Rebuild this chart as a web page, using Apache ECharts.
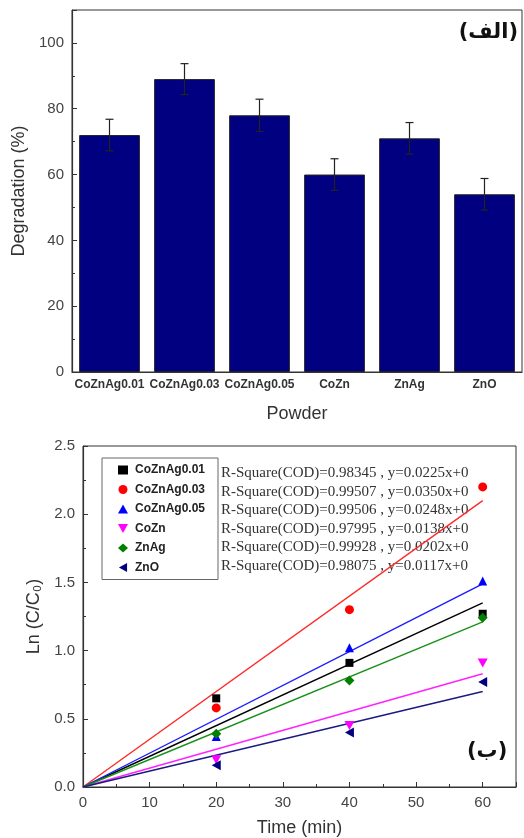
<!DOCTYPE html>
<html>
<head>
<meta charset="utf-8">
<script src="https://cdn.jsdelivr.net/npm/echarts@6/dist/echarts.min.js"></script>
<style>
html,body{margin:0;padding:0;background:#fff;}
#c{width:524px;height:838px;}
</style>
</head>
<body>
<div id="c"></div>
<script>
// ---- Data: panel (الف) ----
var powders = ['CoZnAg0.01', 'CoZnAg0.03', 'CoZnAg0.05', 'CoZn', 'ZnAg', 'ZnO'];
var degradation = [72, 89, 78, 60, 71, 54];
var degradationErr = [4.8, 4.7, 4.9, 4.8, 4.8, 4.8];
var degTicks = [0, 20, 40, 60, 80, 100];

// ---- Data: panel (ب) ----
var times = [20, 40, 60];
var sampleNames = ['CoZnAg0.01', 'CoZnAg0.03', 'CoZnAg0.05', 'CoZn', 'ZnAg', 'ZnO'];
var lnCoZnAg001 = [0.65, 0.91, 1.27];
var lnCoZnAg003 = [0.58, 1.30, 2.20];
var lnCoZnAg005 = [0.37, 1.02, 1.51];
var lnCoZn = [0.20, 0.45, 0.91];
var lnZnAg = [0.39, 0.78, 1.24];
var lnZnO = [0.16, 0.40, 0.77];
var fitX = [0, 60];
var fitCoZnAg001 = [0, 1.35];
var fitCoZnAg003 = [0, 2.10];
var fitCoZnAg005 = [0, 1.49];
var fitCoZn = [0, 0.83];
var fitZnAg = [0, 1.21];
var fitZnO = [0, 0.70];
var fitTexts = [
  'R-Square(COD)=0.98345 , y=0.0225x+0',
  'R-Square(COD)=0.99507 , y=0.0350x+0',
  'R-Square(COD)=0.99506 , y=0.0248x+0',
  'R-Square(COD)=0.97995 , y=0.0138x+0',
  'R-Square(COD)=0.99928 , y=0.0202x+0',
  'R-Square(COD)=0.98075 , y=0.0117x+0'
];

var pointSets = [lnCoZnAg001, lnCoZnAg003, lnCoZnAg005, lnCoZn, lnZnAg, lnZnO];
var fitSets = [fitCoZnAg001, fitCoZnAg003, fitCoZnAg005, fitCoZn, fitZnAg, fitZnO];
var colors = ['#000000', '#ff0000', '#0000ff', '#ff00ff', '#008000', '#000080'];
var lineColors = ['#000000', '#ff2a2a', '#1a1aff', '#ff22ff', '#1a901a', '#1a1a80'];
var downTri = 'path://M0,0 L10,0 L5,9 Z';
var leftTri = 'path://M9,0 L9,10 L0,5 Z';
var symbols = ['rect', 'circle', 'triangle', downTri, 'diamond', leftTri];
var symSize = [[8, 8], [9, 9], [9, 9], [10, 9], [10, 10], [9, 10]];
var legendIcons = ['rect', 'circle', 'triangle', downTri, 'diamond', leftTri];

var chart = echarts.init(document.getElementById('c'), null, {renderer: 'canvas'});
var FONT = 'Liberation Sans, Arial, sans-serif';
var axisColor = '#333';
var labelColor = '#444';

function pairs(xs, ys) { return xs.map(function (x, i) { return [x, ys[i]]; }); }

var series = [];
series.push({
  type: 'bar', xAxisIndex: 0, yAxisIndex: 0, data: degradation,
  barWidth: '81%',
  itemStyle: {color: '#000080', borderColor: '#222', borderWidth: 1},
  silent: true, z: 2
});
series.push({
  type: 'custom', xAxisIndex: 0, yAxisIndex: 0,
  data: degradation.map(function (v, i) { return [i, v - degradationErr[i], v + degradationErr[i]]; }),
  renderItem: function (params, api) {
    var lo = api.coord([api.value(0), api.value(1)]);
    var hi = api.coord([api.value(0), api.value(2)]);
    var cap = 4;
    var st = {stroke: '#222', lineWidth: 1.2};
    return {type: 'group', children: [
      {type: 'line', shape: {x1: hi[0], y1: hi[1], x2: lo[0], y2: lo[1]}, style: st},
      {type: 'line', shape: {x1: hi[0] - cap, y1: hi[1], x2: hi[0] + cap, y2: hi[1]}, style: st},
      {type: 'line', shape: {x1: lo[0] - cap, y1: lo[1], x2: lo[0] + cap, y2: lo[1]}, style: st}
    ]};
  },
  z: 5, silent: true
});
for (var i = 0; i < 6; i++) {
  series.push({
    type: 'line', xAxisIndex: 1, yAxisIndex: 1,
    data: pairs(fitX, fitSets[i]), showSymbol: false, symbol: 'none',
    lineStyle: {color: lineColors[i], width: 1.4}, z: 3, silent: true
  });
}
for (var j = 0; j < 6; j++) {
  series.push({
    type: 'scatter', name: sampleNames[j], xAxisIndex: 1, yAxisIndex: 1,
    data: pairs(times, pointSets[j]),
    symbol: symbols[j], symbolSize: symSize[j],
    itemStyle: {color: colors[j], opacity: 1}, z: 4, silent: true
  });
}

var graphics = [
  {type: 'text', right: 6, top: 22, style: {text: '(الف)', font: 'bold 21px "DejaVu Sans", sans-serif', fill: '#111'}},
  {type: 'text', left: 467, top: 741, style: {text: '(ب)', font: 'bold 21px "DejaVu Sans", sans-serif', fill: '#111'}}
];
fitTexts.forEach(function (t, k) {
  graphics.push({type: 'text', left: 221, top: 466 + k * 18.5,
    style: {text: t, font: '15px "Liberation Serif", "Times New Roman", serif', fill: '#333'}});
});

var option = {
  backgroundColor: '#fff',
  animation: false,
  grid: [
    {left: 72, top: 10, width: 450, height: 362, show: true, borderColor: axisColor, borderWidth: 1, backgroundColor: 'transparent'},
    {left: 83, top: 446, width: 433, height: 342, show: true, borderColor: axisColor, borderWidth: 1, backgroundColor: 'transparent'}
  ],
  xAxis: [
    {
      type: 'category', gridIndex: 0, data: powders,
      name: 'Powder', nameLocation: 'middle', nameGap: 33,
      nameTextStyle: {fontFamily: FONT, fontSize: 18, color: axisColor},
      axisLine: {lineStyle: {color: axisColor, width: 1.2}},
      axisTick: {show: true, inside: true, alignWithLabel: true, length: 4, lineStyle: {color: '#222'}},
      axisLabel: {interval: 0, fontFamily: FONT, fontSize: 12, fontWeight: 'bold', color: '#333', margin: 7},
      splitLine: {show: false}
    },
    {
      type: 'value', gridIndex: 1, min: 0, max: 65, interval: 10,
      name: 'Time (min)', nameLocation: 'middle', nameGap: 32,
      nameTextStyle: {fontFamily: FONT, fontSize: 18, color: axisColor},
      axisLine: {onZero: false, lineStyle: {color: axisColor, width: 1.2}},
      axisTick: {inside: true, length: 5, lineStyle: {color: axisColor}},
      minorTick: {show: true, splitNumber: 2, length: 3, lineStyle: {color: axisColor}},
      axisLabel: {fontFamily: FONT, fontSize: 15, color: labelColor, margin: 8, showMaxLabel: false},
      splitLine: {show: false}, minorSplitLine: {show: false}
    }
  ],
  yAxis: [
    {
      type: 'value', gridIndex: 0, min: 0, max: 110, interval: 20,
      name: 'Degradation (%)', nameLocation: 'middle', nameGap: 40,
      nameTextStyle: {fontFamily: FONT, fontSize: 18, color: axisColor},
      axisLine: {show: true, lineStyle: {color: axisColor, width: 1.2}},
      axisTick: {show: true, inside: true, length: 5, lineStyle: {color: axisColor}},
      minorTick: {show: true, splitNumber: 2, length: 3, lineStyle: {color: axisColor}},
      axisLabel: {fontFamily: FONT, fontSize: 15, color: labelColor, margin: 8, showMaxLabel: false,
        formatter: function (v) { return degTicks.indexOf(v) >= 0 ? String(v) : ''; }},
      splitLine: {show: false}
    },
    {
      type: 'value', gridIndex: 1, min: 0, max: 2.5, interval: 0.5,
      name: 'Ln (C/C₀)', nameLocation: 'middle', nameGap: 33,
      nameTextStyle: {fontFamily: FONT, fontSize: 18, color: axisColor},
      axisLine: {show: true, onZero: false, lineStyle: {color: axisColor, width: 1.2}},
      axisTick: {show: true, inside: true, length: 5, lineStyle: {color: axisColor}},
      minorTick: {show: true, splitNumber: 2, length: 3, lineStyle: {color: axisColor}},
      axisLabel: {fontFamily: FONT, fontSize: 15, color: labelColor, margin: 8,
        formatter: function (v) { return v.toFixed(1); }},
      splitLine: {show: false}
    }
  ],
  legend: {
    data: sampleNames.map(function (n, k) { return {name: n, icon: legendIcons[k]}; }),
    orient: 'vertical', left: 102, top: 458,
    padding: [5, 13, 5, 16],
    itemWidth: 10, itemHeight: 9, itemGap: 5.5,
    borderColor: '#666', borderWidth: 1, backgroundColor: '#fff',
    selectedMode: false,
    textStyle: {fontFamily: FONT, fontSize: 12, fontWeight: 'bold', color: '#222', lineHeight: 14, padding: [0, 0, 0, 2]}
  },
  graphic: graphics,
  series: series
};
chart.setOption(option);
</script>
</body>
</html>
